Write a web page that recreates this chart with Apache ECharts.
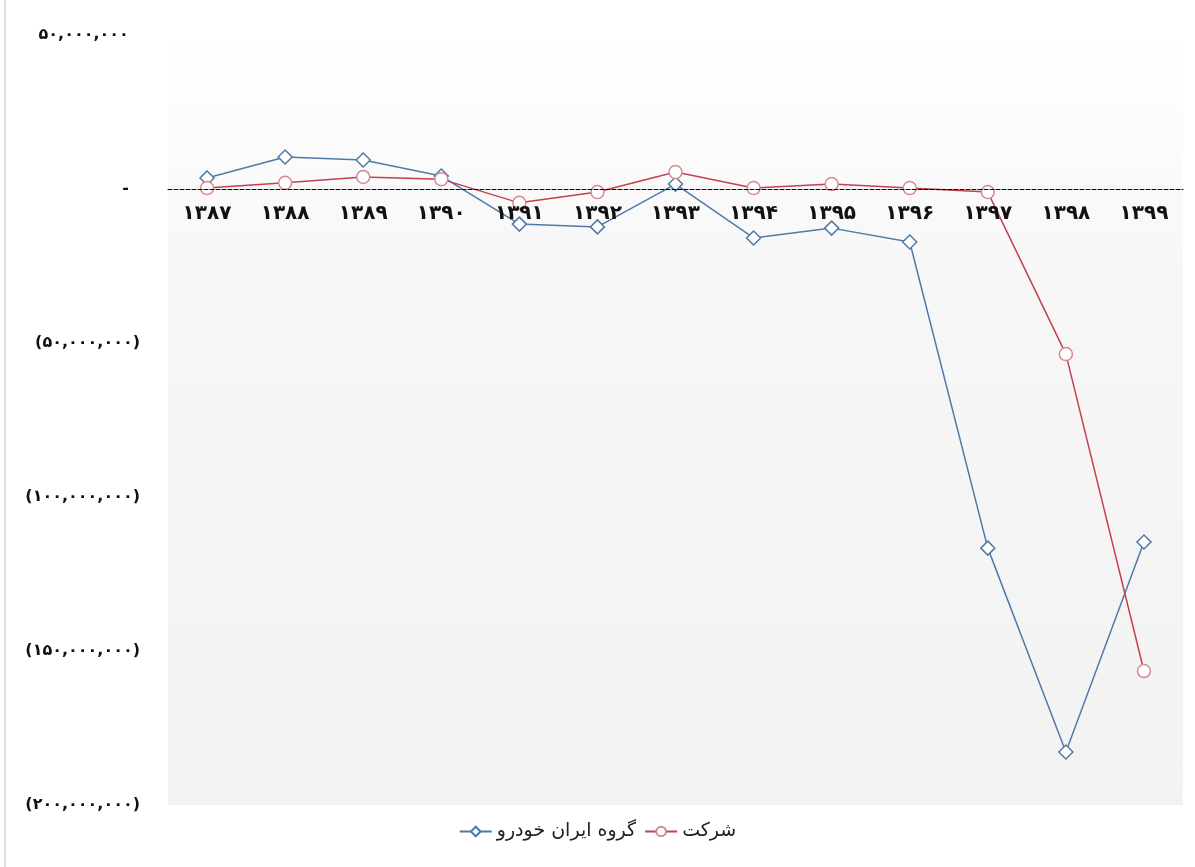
<!DOCTYPE html>
<html><head><meta charset="utf-8">
<script src="https://cdn.jsdelivr.net/npm/echarts@6/dist/echarts.min.js"></script>
<style>html,body{margin:0;padding:0;background:#fff}#c{width:1195px;height:867px}</style>
</head><body><div id="c"></div>
<script>
const categories = ['1387','1388','1389','1390','1391','1392','1393','1394','1395','1396','1397','1398','1399'];
const groupValues = [3.6e6, 10.4e6, 9.4e6, 4.2e6, -11.4e6, -12.3e6, 1.6e6, -15.9e6, -12.7e6, -17.2e6, -116.6e6, -182.8e6, -114.6e6];
const companyValues = [0.3e6, 2.0e6, 3.9e6, 3.2e6, -4.5e6, -1.0e6, 5.5e6, 0.3e6, 1.6e6, 0.3e6, -1.0e6, -53.6e6, -156.5e6];
const seriesNames = ['گروه ایران خودرو', 'شرکت'];
const yMin = -200000000, yMax = 50000000, yStep = 50000000;

const fa = s => String(s).replace(/[0-9]/g, d => '۰۱۲۳۴۵۶۷۸۹'[d]);
function fmt(v){
  if (v === 0) return '-  ';
  const s = Math.abs(v).toString().replace(/\B(?=(\d{3})+(?!\d))/g, ',');
  return v < 0 ? '(' + fa(s) + ')' : fa(s) + '  ';
}
const font = 'DejaVu Sans';
const chart = echarts.init(document.getElementById('c'));
const option = {
  backgroundColor: '#fff',
  animation: false,
  textStyle: {fontFamily: font},
  grid: {
    left: 168, right: 12, top: 35, bottom: 62, show: true, borderWidth: 0,
    backgroundColor: new echarts.graphic.LinearGradient(0, 0, 0, 1, [
      {offset: 0, color: '#ffffff'}, {offset: 0.3, color: '#f7f7f7'}, {offset: 1, color: '#f2f2f2'}
    ])
  },
  graphic: [{type: 'line', shape: {x1: 5, y1: 0, x2: 5, y2: 867}, style: {stroke: '#e2e2e2', lineWidth: 2}}],
  legend: {
    data: seriesNames, bottom: 21, left: 'center', itemWidth: 32, itemHeight: 12, itemGap: 8,
    textStyle: {fontFamily: font, fontSize: 19, color: '#222'}
  },
  xAxis: {
    type: 'category', data: categories, boundaryGap: true,
    axisLine: {onZero: false, lineStyle: {color: '#000', type: 'dashed', width: 1}},
    axisTick: {show: false},
    axisLabel: {formatter: v => fa(v), fontFamily: font, fontSize: 20, fontWeight: 'bold', color: '#111', margin: 15},
    splitLine: {show: false},
    z: 10
  },
  yAxis: {
    type: 'value', min: yMin, max: yMax, interval: yStep,
    axisLine: {show: false}, axisTick: {show: false}, splitLine: {show: false},
    axisLabel: {formatter: fmt, fontFamily: font, fontSize: 16, fontWeight: 'bold', color: '#111', margin: 28}
  },
  series: [
    {
      name: seriesNames[0], type: 'line', data: groupValues,
      symbol: 'diamond', symbolSize: 14,
      lineStyle: {color: '#4f7aa8', width: 1.5},
      itemStyle: {color: '#fff', borderColor: '#4f7aa8', borderWidth: 1.5},
      z: 3
    },
    {
      name: seriesNames[1], type: 'line', data: companyValues,
      symbol: 'circle', symbolSize: 13,
      lineStyle: {color: '#c4404f', width: 1.5},
      itemStyle: {color: '#fff', borderColor: '#d48a92', borderWidth: 1.5},
      z: 4
    }
  ]
};
chart.setOption(option);
const y0 = chart.convertToPixel({yAxisIndex: 0}, 0);
const yB = chart.convertToPixel({yAxisIndex: 0}, yMin);
chart.setOption({xAxis: {offset: -(yB - y0)}});
</script></body></html>
